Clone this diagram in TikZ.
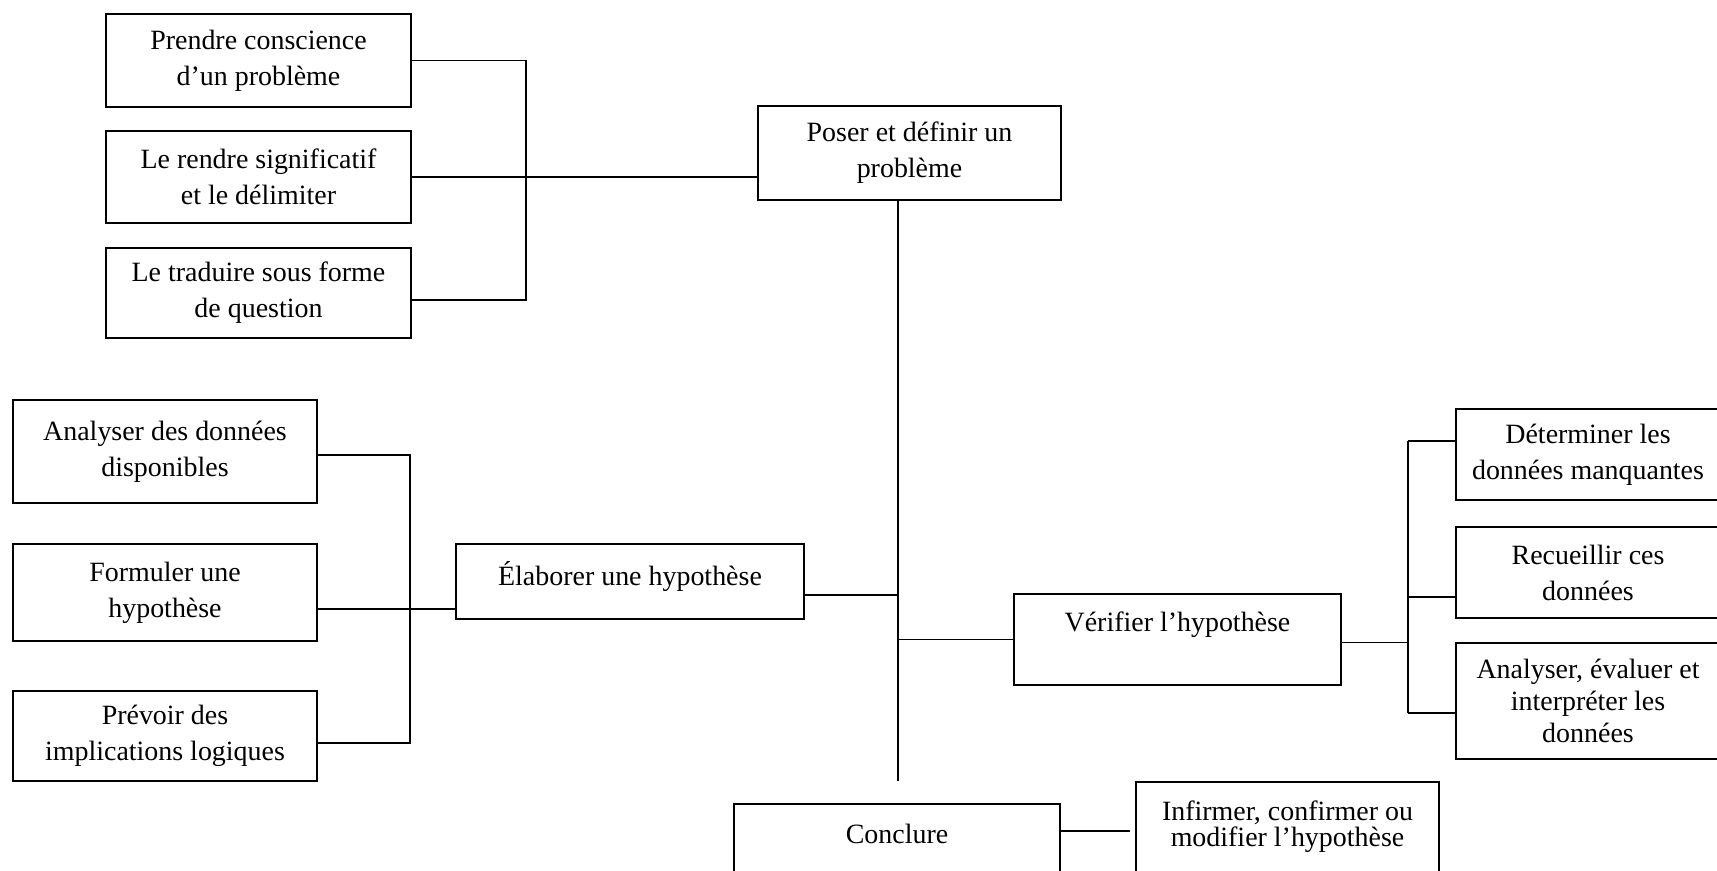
\documentclass[tikz,border=0pt]{standalone}
\usepackage{fontspec}
\setmainfont{Liberation Serif}
\usetikzlibrary{calc}
\tikzset{
  boite/.style={draw, line width=0.8pt, inner sep=0pt, align=center,
    font=\fontsize{15.9}{20.5}\selectfont},
  lien/.style={line width=0.8pt}
}

\begin{document}
\begin{tikzpicture}[x=0.02cm, y=-0.02cm]
		%%%%% START %%%%%
		\useasboundingbox (0, 0) rectangle (1717, 870);
		
		\node[boite, minimum width=6.10cm, minimum height=1.86cm] (prendre) at (258.5, 60.5) {Prendre conscience\\d’un problème};
		\node[boite, minimum width=6.10cm, minimum height=1.84cm] (rendre) at (258.5, 177) {Le rendre significatif\\et le délimiter};
		\node[boite, minimum width=6.10cm, minimum height=1.80cm] (traduire) at (258.5, 293) {Le traduire sous forme\\de question};
		\node[boite, minimum width=6.06cm, minimum height=1.88cm] (poser) at (909.5, 153) {Poser et définir un\\problème};
		
		\node[boite, minimum width=6.08cm, minimum height=2.06cm] (analyser) at (165, 451.5) {Analyser des données\\disponibles};
		\node[boite, minimum width=6.08cm, minimum height=1.94cm] (formuler) at (165, 592.5) {Formuler une\\hypothèse};
		\node[boite, minimum width=6.08cm, minimum height=1.80cm] (prevoir) at (165, 736) {Prévoir des\\implications logiques};
		\node[boite, minimum width=6.96cm, minimum height=1.50cm, text depth=0.32cm] (elaborer) at (630, 581.5) {Élaborer une hypothèse};
		
		\node[boite, minimum width=6.54cm, minimum height=1.82cm, text depth=0.70cm] (verifier) at (1177.5, 639.5) {Vérifier l’hypothèse};
		\node[boite, minimum width=5.28cm, minimum height=1.82cm] (determiner) at (1588, 454.5) {Déterminer les\\données manquantes};
		\node[boite, minimum width=5.28cm, minimum height=1.82cm] (recueillir) at (1588, 572.5) {Recueillir ces\\données};
		\node[boite, minimum width=5.28cm, minimum height=2.32cm, font=\fontsize{15.9}{18.2}\selectfont] (interpreter) at (1588, 701) {Analyser, évaluer et\\interpréter les\\données};
		
		\node[boite, minimum width=6.52cm, minimum height=1.60cm, text depth=0.40cm] (conclure) at (897, 844) {Conclure};
		\node[boite, minimum width=6.06cm, minimum height=1.80cm, font=\fontsize{15.9}{12.5}\selectfont] (infirmer) at (1287.5, 827) {Infirmer, confirmer ou\\modifier l’hypothèse};
		
		% points de jonction
		\coordinate (jhaut) at (526, 177);
		\coordinate (jgauche) at (410, 609);
		\coordinate (tronc) at (898, 781);
		\coordinate (branche) at (898, 595);
		\coordinate (jd1) at (1408, 441);
		\coordinate (jd2) at (1408, 597);
		\coordinate (jd3) at (1408, 713);
		\coordinate (jfin) at (1130, 831);
		
		\draw[lien] (prendre.east) -| (jhaut) |- ($(traduire.east)+(0, 7)$);
		\draw[lien] (rendre.east |- jhaut) -- (jhaut -| poser.west);
		\draw[lien] (poser.south -| tronc) -- (tronc);
		
		\draw[lien] (analyser.east) ++(0, 3.5) -| (jgauche) |- ($(prevoir.east)+(0, 7)$);
		\draw[lien] (formuler.east |- jgauche) -- (jgauche -| elaborer.west);
		\draw[lien] (elaborer.east |- branche) -- (branche);
		\draw[lien] (verifier.west -| tronc) -- (verifier.west);
		
		\draw[lien] (verifier.east) ++(0, 3) -| (jd2);
		\draw[lien] (jd1) -- (jd3);
		\draw[lien] (jd1) -- (jd1 -| determiner.west);
		\draw[lien] (jd2) -- (jd2 -| recueillir.west);
		\draw[lien] (jd3) -- (jd3 -| interpreter.west);
		
		\draw[lien] (conclure.east |- jfin) -- (jfin);
		%%%%% END %%%%%
	\end{tikzpicture}
\end{document}
